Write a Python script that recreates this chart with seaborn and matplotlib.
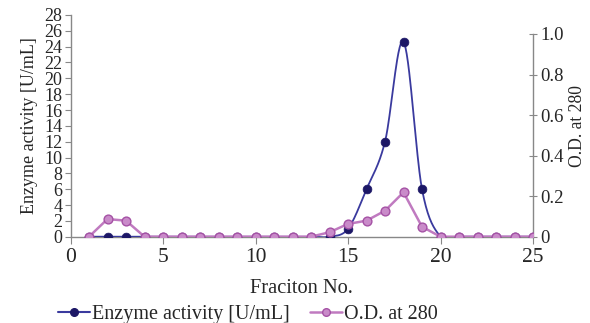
import numpy as np
import pandas as pd
import matplotlib
matplotlib.use("Agg")
import matplotlib.pyplot as plt
from matplotlib.lines import Line2D
import seaborn as sns

# ---- data ----
fractions = list(range(1, 26))
enzyme = [0, 0, 0, 0, 0, 0, 0, 0, 0, 0, 0, 0, 0, 0, 1.0, 6.0, 12.0, 24.6, 6.0,
          0, 0, 0, 0, 0, 0]
od280 = [0, 0.087, 0.079, 0, 0, 0, 0, 0, 0, 0, 0, 0, 0, 0.022, 0.063, 0.079,
         0.128, 0.219, 0.049, 0, 0, 0, 0, 0, 0]
x_ticks = [0, 5, 10, 15, 20, 25]
left_ticks = list(range(0, 29, 2))
right_ticks = [0, 0.2, 0.4, 0.6, 0.8, 1.0]
right_labels = ["0", "0.2", "0.4", "0.6", "0.8", "1.0"]
label_enz = "Enzyme activity [U/mL]"
label_od = "O.D. at 280"

ENZ_LINE = "#3a3a9e"
ENZ_MARK = "#1c1766"
OD_LINE = "#c07ac0"
OD_FACE = "#c98bc9"
OD_EDGE = "#a552a5"


def smooth(xs, ys, n=30):
    """Excel-style smoothed line (cubic Bezier / Catmull-Rom through points)."""
    xs = np.asarray(xs, float)
    ys = np.asarray(ys, float)
    px = np.concatenate([[xs[0]], xs, [xs[-1]]])
    py = np.concatenate([[ys[0]], ys, [ys[-1]]])
    outx, outy = [], []
    t = np.linspace(0, 1, n)
    for i in range(1, len(px) - 2):
        p0 = np.array([px[i], py[i]])
        p3 = np.array([px[i + 1], py[i + 1]])
        p1 = p0 + (np.array([px[i + 1], py[i + 1]]) - np.array([px[i - 1], py[i - 1]])) / 6
        p2 = p3 - (np.array([px[i + 2], py[i + 2]]) - np.array([px[i], py[i]])) / 6
        b = ((1 - t) ** 3)[:, None] * p0 + (3 * (1 - t) ** 2 * t)[:, None] * p1 \
            + (3 * (1 - t) * t ** 2)[:, None] * p2 + (t ** 3)[:, None] * p3
        outx.extend(b[:, 0])
        outy.extend(b[:, 1])
    return np.array(outx), np.array(outy)


sns.set_style("white")
plt.rcParams["font.family"] = ["Liberation Serif", "DejaVu Serif"]

fig = plt.figure(figsize=(5.9, 3.23), dpi=100)
ax = fig.add_axes([0.1195, 0.2672, 0.9034 - 0.1195, 0.9536 - 0.2672])
ax2 = ax.twinx()

# enzyme (left axis)
sx, sy = smooth(fractions, enzyme)
curve = pd.DataFrame({"x": sx, "y": sy})
sns.lineplot(data=curve, x="x", y="y", ax=ax, color=ENZ_LINE, linewidth=1.3,
             sort=False, estimator=None, zorder=3)
df = pd.DataFrame({"fraction": fractions, "enzyme": enzyme, "od": od280})
sns.scatterplot(data=df, x="fraction", y="enzyme", ax=ax, color=ENZ_MARK,
                s=40, edgecolor=ENZ_MARK, linewidth=0.5, zorder=4)

# O.D. (right axis)
sns.lineplot(data=df, x="fraction", y="od", ax=ax2, color=OD_LINE,
             linewidth=1.8, zorder=3)
sns.scatterplot(data=df, x="fraction", y="od", ax=ax2, color=OD_FACE,
                s=40, edgecolor=OD_EDGE, linewidth=1.0, zorder=4)

# left axis
ax.set_xlim(0, 25)
ax.set_ylim(0, 28)
ax.set_xticks(x_ticks)
ax.set_yticks(left_ticks)
ax.tick_params(axis="x", labelsize=15.5, length=5, width=0.8, color="#888888",
               direction="out", pad=3, bottom=True)
ax.tick_params(axis="y", labelsize=13, length=4, width=0.8, color="#888888",
               direction="out", pad=2, left=True)
ax.set_xlabel("Fraciton No.", fontsize=14.7, labelpad=9)
ax.set_ylabel(label_enz, fontsize=13, labelpad=4)
for side in ["top", "right"]:
    ax.spines[side].set_visible(False)
for side in ["left", "bottom"]:
    ax.spines[side].set_color("#888888")
    ax.spines[side].set_linewidth(1.0)

# right axis
ax2.set_ylim(0, 1.0 * 221.7 / 202.7)
ax2.set_yticks(right_ticks)
ax2.set_yticklabels(right_labels)
ax2.tick_params(axis="y", labelsize=13.5, length=6, width=0.8, color="#888888",
                direction="inout", pad=2, right=True)
ax2.set_ylabel(label_od, fontsize=12.7, labelpad=4)
ax2.spines["right"].set_bounds(0, 1.0)
ax2.spines["right"].set_color("#888888")
ax2.spines["right"].set_linewidth(1.0)
for side in ["top", "left", "bottom"]:
    ax2.spines[side].set_visible(False)
ax2.grid(False)
ax.grid(False)

handles = [
    Line2D([0], [0], color=ENZ_LINE, linewidth=1.5, marker="o", markersize=5.5,
           markerfacecolor=ENZ_MARK, markeredgecolor=ENZ_MARK),
    Line2D([0], [0], color=OD_LINE, linewidth=1.8, marker="o", markersize=5.5,
           markerfacecolor=OD_FACE, markeredgecolor=OD_EDGE),
]
fig.legend(handles, [label_enz, label_od], loc="center",
           bbox_to_anchor=(248 / 590, 1 - 314 / 323), ncol=2, frameon=False,
           fontsize=14.5, handlelength=1.6, handletextpad=0.1, columnspacing=1.0,
           borderaxespad=0, borderpad=0)

fig.savefig("out.png", dpi=100)
